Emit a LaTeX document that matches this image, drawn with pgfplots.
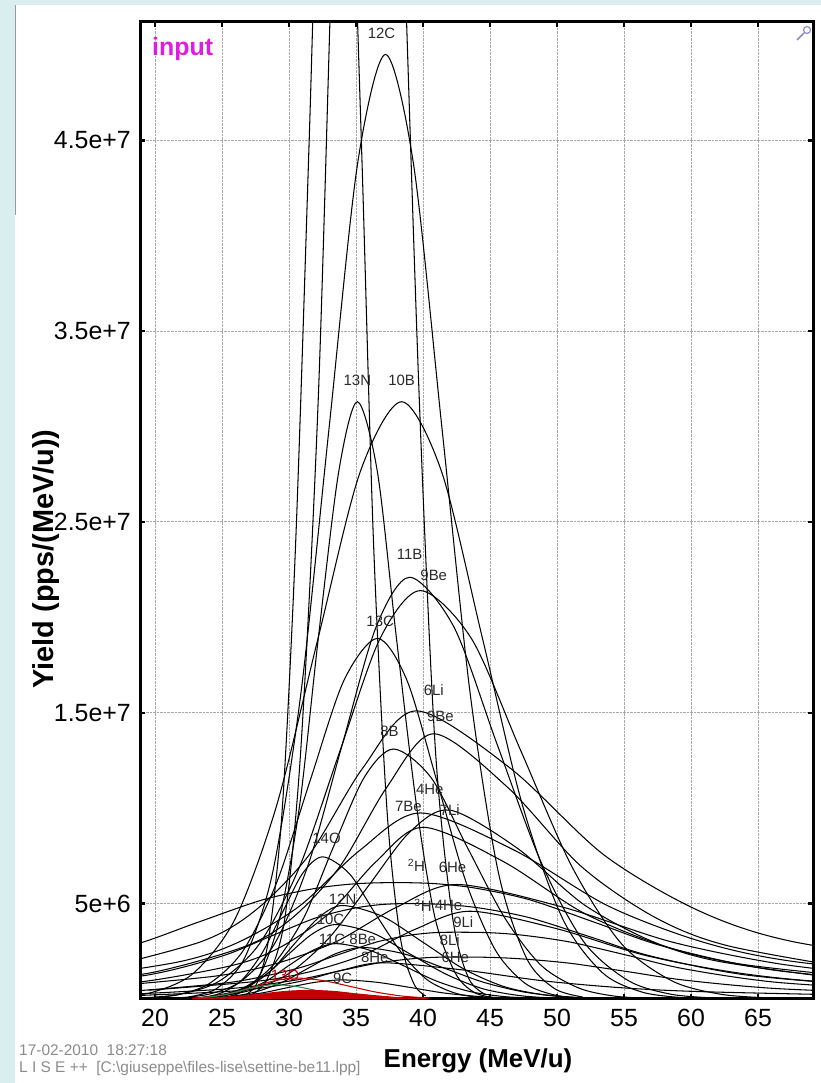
\documentclass[border=0pt]{standalone}
\usepackage{fontspec}
\setmainfont{Liberation Sans}
\usepackage{pgfplots}
\pgfplotsset{compat=1.18}

\definecolor{slidebg}{HTML}{DAEDEF}
\definecolor{slideline}{HTML}{9A9A9A}
\definecolor{inputmag}{HTML}{E01CE0}
\definecolor{gridgray}{HTML}{A8A8A8}
\definecolor{ionred}{HTML}{C00000}
\definecolor{iongreen}{HTML}{2A8A4A}
\definecolor{lblgray}{HTML}{2A2A2A}
\definecolor{stampgray}{HTML}{8C8C8C}
\definecolor{zoomicon}{HTML}{8C8CD0}

\begin{document}
\begin{tikzpicture}[x=1bp,y=1bp]
\useasboundingbox (0,0) rectangle (821,1083);
\fill[slidebg] (0,0) rectangle (821,1083);
\fill[white] (15,0) rectangle (821,1078);
\draw[slideline, line width=1.5bp] (15.5,868) -- (15.5,1078);

\begin{axis}[
  at={(140bp,84bp)}, anchor=south west, scale only axis,
  width=673bp, height=977bp,
  xmin=18.88, xmax=69.1, ymin=0, ymax=51.2,
  axis line style={line width=3bp},
  tick align=inside, major tick length=5bp,
  every tick/.style={black, line width=2.5bp},
  xtick={20,25,...,65},
  ytick={5,15,25,35,45},
  yticklabels={5e+6,1.5e+7,2.5e+7,3.5e+7,4.5e+7},
  grid=major,
  major grid style={gridgray, densely dotted, line width=1bp},
  /pgf/number format/assume math mode=true,
  xticklabel style={font={\fontsize{25}{30}\selectfont}, inner sep=0pt, anchor=north, yshift=-10bp},
  yticklabel style={font={\fontsize{25}{30}\selectfont}, inner sep=0pt, anchor=east, xshift=-9bp},
  cycle list={{black, solid}},
  every axis plot/.append style={line width=1.05bp, smooth, no markers},
  clip=true,
]
% narrow, very intense distributions (peaks far above the frame)
\addplot coordinates {(26.6,0.16)(27.6,0.82)(28.5,3.25)(29.5,10.0)(30.5,24.0)(31.5,44.9)(32.4,65.3)(33.4,74)(34.4,65.3)(35.4,44.9)(36.3,24.0)(37.3,10.0)(38.3,3.25)(39.3,0.82)(40.2,0.16)};
\addplot coordinates {(27.2,0.22)(28.4,1.09)(29.7,4.3)(30.9,13.3)(32.2,31.8)(33.4,59.4)(34.7,86.5)(35.9,98)(37.2,86.5)(38.4,59.4)(39.7,31.8)(40.9,13.3)(42.2,4.3)(43.4,1.09)(44.7,0.22)};
% 12C
\addplot coordinates {(22.5,0.11)(24.6,0.55)(26.7,2.17)(28.8,6.70)(30.9,16.1)(33.0,30.0)(35.1,43.7)(37.2,49.5)(39.3,43.7)(41.4,30.0)(43.5,16.1)(45.6,6.70)(47.7,2.17)(49.8,0.55)(51.9,0.11)};
% 13N
\addplot coordinates {(25.0,0.07)(26.4,0.35)(27.9,1.37)(29.3,4.23)(30.8,10.2)(32.2,19.0)(33.7,27.6)(35.1,31.3)(36.6,27.6)(38.0,19.0)(39.5,10.2)(40.9,4.23)(42.4,1.37)(43.8,0.35)(45.3,0.07)};
% 10B
\addplot coordinates {(16.7,0.07)(19.8,0.35)(22.9,1.37)(26.0,4.23)(29.1,10.2)(32.2,19.0)(35.3,27.6)(38.4,31.3)(41.4,27.6)(44.4,19.0)(47.4,10.2)(50.4,4.23)(53.4,1.37)(56.4,0.35)(59.4,0.07)};
% 11B
\addplot coordinates {(21.5,0.05)(24.0,0.25)(26.5,0.97)(29.0,2.99)(31.5,7.18)(34.0,13.4)(36.5,19.5)(39.0,22.1)(42.3,19.5)(45.5,13.4)(48.8,7.18)(52.0,2.99)(55.3,0.97)(58.5,0.25)(61.8,0.05)};
% 9Be
\addplot coordinates {(18.8,0.05)(21.8,0.24)(24.8,0.94)(27.8,2.90)(30.8,6.95)(33.8,13.0)(36.8,18.9)(39.8,21.4)(43.6,18.9)(47.3,13.0)(51.1,6.95)(54.8,2.90)(58.6,0.94)(62.3,0.24)(66.1,0.05)};
% 13C
\addplot coordinates {(19.1,0.04)(21.6,0.21)(24.1,0.83)(26.6,2.56)(29.1,6.14)(31.6,11.5)(34.1,16.7)(36.6,18.9)(38.8,16.7)(41.0,11.5)(43.2,6.14)(45.4,2.56)(47.6,0.83)(49.8,0.21)(52.0,0.04)};
% 6Li
\addplot coordinates {(15.5,1.51)(23.5,3.02)(27.5,4.65)(31.5,7.55)(35.5,12.1)(39.5,15.1)(46.5,12.1)(53.5,7.55)(60.5,4.65)(67.5,3.02)(81.5,1.51)};
% 9Be (second setting)
\addplot coordinates {(12.8,0.82)(19.8,1.39)(26.8,2.78)(30.3,4.28)(33.8,6.95)(37.3,11.1)(40.8,13.9)(46.3,11.1)(51.8,6.95)(57.3,4.28)(62.8,2.78)(73.8,1.39)};
% 8B
\addplot coordinates {(22.1,0.03)(24.3,0.15)(26.6,0.58)(28.8,1.77)(31.1,4.25)(33.3,7.95)(35.6,11.6)(37.8,13.1)(40.6,11.6)(43.3,7.95)(46.1,4.25)(48.8,1.77)(51.6,0.58)(54.3,0.15)(57.1,0.03)};
% 4He
\addplot coordinates {(12.8,0.98)(21.8,1.95)(26.3,3.0)(30.8,4.88)(35.3,7.8)(39.8,9.75)(46.8,7.8)(53.8,4.88)(60.8,3.0)(67.8,1.95)(81.8,0.98)};
% 7Be
\addplot coordinates {(12.0,0.53)(19.0,0.9)(26.0,1.8)(29.5,2.77)(33.0,4.5)(36.5,7.2)(40.0,9.0)(46.0,7.2)(52.0,4.5)(58.0,2.77)(64.0,1.8)(76.0,0.9)};
% 7Li
\addplot coordinates {(24.0,0.11)(27.0,0.43)(30.0,1.34)(33.0,3.21)(36.0,6.0)(39.0,8.74)(42.0,9.9)(47.0,7.92)(52.0,4.95)(57.0,3.05)(62.0,1.98)(72.0,0.99)};
% 14O
\addplot coordinates {(22.0,0.02)(23.5,0.08)(25.0,0.33)(26.5,1.01)(28.0,2.42)(29.5,4.52)(31.0,6.57)(32.5,7.45)(34.5,6.57)(36.4,4.52)(38.4,2.42)(40.3,1.01)(42.3,0.33)(44.2,0.08)(46.2,0.02)};
% 2H
\addplot coordinates {(-2.0,0.73)(10.0,1.53)(18.0,2.75)(23.0,3.97)(28.0,5.19)(32.0,5.8)(35.0,6.04)(38.0,6.1)(41.0,6.04)(44.0,5.8)(48.0,5.19)(53.0,3.97)(58.0,2.75)(66.0,1.53)(78.0,0.73)};
% 6He
\addplot coordinates {(15.5,0.6)(24.5,1.2)(29.0,1.85)(33.5,3.0)(38.0,4.8)(42.5,6.0)(50.5,4.8)(58.5,3.0)(66.5,1.85)(74.5,1.2)};
% 12N
\addplot coordinates {(23.5,0.05)(25.3,0.22)(27.0,0.66)(28.8,1.59)(30.5,2.97)(32.3,4.32)(34.0,4.9)(37.0,4.32)(40.0,2.97)(43.0,1.59)(46.0,0.66)(49.0,0.22)(52.0,0.05)};
% 3H
\addplot coordinates {(11.0,0.6)(19.4,1.25)(25.0,2.25)(28.5,3.25)(32.0,4.25)(34.8,4.75)(36.9,4.95)(39.0,5.0)(41.7,4.95)(44.4,4.75)(48.0,4.25)(52.5,3.25)(57.0,2.25)(64.2,1.25)(75.0,0.6)};
% 9Li
\addplot coordinates {(19.5,0.46)(27.5,0.92)(31.5,1.42)(35.5,2.3)(39.5,3.68)(43.5,4.6)(50.0,3.68)(56.5,2.3)(63.0,1.42)(69.5,0.92)(82.5,0.46)};
% 10C
\addplot coordinates {(23.0,0.04)(24.8,0.17)(26.5,0.53)(28.3,1.27)(30.0,2.37)(31.8,3.44)(33.5,3.9)(36.3,3.44)(39.0,2.37)(41.8,1.27)(44.5,0.53)(47.3,0.17)(50.0,0.04)};
% 8Li
\addplot coordinates {(18.5,0.42)(25.7,0.88)(30.5,1.58)(33.5,2.28)(36.5,2.98)(38.9,3.33)(40.7,3.47)(42.5,3.5)(45.1,3.47)(47.6,3.33)(51.0,2.98)(55.3,2.28)(59.5,1.58)(66.3,0.88)(76.5,0.42)};
% 11C
\addplot coordinates {(23.0,0.03)(24.8,0.13)(26.5,0.39)(28.3,0.94)(30.0,1.76)(31.8,2.56)(33.5,2.9)(36.0,2.56)(38.5,1.76)(41.0,0.94)(43.5,0.39)(46.0,0.13)(48.5,0.03)};
% 8Be
\addplot coordinates {(23.5,0.03)(25.5,0.12)(27.5,0.37)(29.5,0.88)(31.5,1.64)(33.5,2.38)(35.5,2.7)(38.5,2.38)(41.5,1.64)(44.5,0.88)(47.5,0.37)(50.5,0.12)(53.5,0.03)};
% 6He (second setting)
\addplot coordinates {(18.5,0.26)(25.7,0.55)(30.5,0.99)(33.5,1.43)(36.5,1.87)(38.9,2.09)(40.7,2.18)(42.5,2.2)(45.1,2.18)(47.6,2.09)(51.0,1.87)(55.3,1.43)(59.5,0.99)(66.3,0.55)(76.5,0.26)};
% 8He
\addplot coordinates {(19.0,0.19)(25.0,0.38)(28.0,0.58)(31.0,0.95)(34.0,1.52)(37.0,1.9)(43.0,1.52)(49.0,0.95)(55.0,0.58)(61.0,0.38)(73.0,0.19)};
% 9C
\addplot coordinates {(24.0,0.04)(26.0,0.14)(28.0,0.32)(30.0,0.61)(32.0,0.88)(34.0,1.0)(36.5,0.88)(39.0,0.61)(41.5,0.32)(44.0,0.14)(46.5,0.04)};
% 13O
\addplot[ionred] coordinates {(23.0,0.05)(24.5,0.15)(26.0,0.36)(27.5,0.67)(29.0,0.97)(30.5,1.1)(32.5,0.97)(34.5,0.67)(36.5,0.36)(38.5,0.15)(40.5,0.05)};
% light neighbour of 13O
\addplot[iongreen] coordinates {(22.8,0.03)(24.0,0.10)(25.3,0.24)(26.5,0.45)(27.8,0.66)(29.0,0.75)(30.5,0.66)(32.0,0.45)(33.5,0.24)(35.0,0.10)(36.5,0.03)};
% weakest component, filled
\addplot[ionred, fill=ionred] coordinates {(22.8,0.02)(24.5,0.06)(26.3,0.15)(28.0,0.27)(29.8,0.40)(31.5,0.45)(33.3,0.40)(35.0,0.27)(36.8,0.15)(38.5,0.06)(40.3,0.02)} \closedcycle;

% fragment labels
\begin{scope}[every node/.style={inner sep=0pt, text=lblgray, font={\fontsize{15}{17}\selectfont}}]
\node at (axis cs:36.9,50.6) {12C};
\node at (axis cs:35.1,32.4) {13N};
\node at (axis cs:38.4,32.4) {10B};
\node at (axis cs:39.0,23.3) {11B};
\node at (axis cs:40.8,22.2) {9Be};
\node at (axis cs:36.8,19.8) {13C};
\node at (axis cs:40.8,16.2) {6Li};
\node at (axis cs:41.3,14.8) {9Be};
\node at (axis cs:37.5,14.0) {8B};
\node at (axis cs:40.5,11.0) {4He};
\node at (axis cs:38.9,10.1) {7Be};
\node at (axis cs:42.0,9.9) {7Li};
\node at (axis cs:32.8,8.4) {14O};
\node at (axis cs:39.5,7.0) {\textsuperscript{2}H};
\node at (axis cs:42.2,6.9) {6He};
\node at (axis cs:34.0,5.2) {12N};
\node at (axis cs:40.0,4.9) {\textsuperscript{3}H};
\node at (axis cs:41.9,4.9) {4He};
\node at (axis cs:43.0,4.05) {9Li};
\node at (axis cs:33.1,4.15) {10C};
\node at (axis cs:42.0,3.1) {8Li};
\node at (axis cs:33.2,3.1) {11C};
\node at (axis cs:35.5,3.1) {8Be};
\node at (axis cs:36.4,2.2) {8He};
\node at (axis cs:42.4,2.2) {6He};
\node[text=ionred] at (axis cs:29.7,1.25) {13O};
\node at (axis cs:34.0,1.1) {9C};
\end{scope}
\end{axis}

% panel annotations
\node[anchor=base west, inner sep=0pt, text=inputmag, font={\bfseries\fontsize{25}{30}\selectfont}] at (152,1027) {input};
\draw[zoomicon, line width=1.6bp] (797,1043) -- (804,1050);
\draw[zoomicon, line width=1.2bp] (807,1053) circle (3.5);

% axis titles
\node[rotate=90, inner sep=0pt, font={\bfseries\fontsize{29}{34}\selectfont}] at (46,524) {Yield (pps/(MeV/u))};
\node[anchor=base, inner sep=0pt, font={\bfseries\fontsize{26}{30}\selectfont}] at (478,15) {Energy (MeV/u)};

% time stamp and settings file
\node[anchor=base west, inner sep=0pt, text=stampgray, font={\fontsize{15.5}{18}\selectfont}] at (19,27) {17-02-2010\ \ 18:27:18};
\node[anchor=base west, inner sep=0pt, text=stampgray, font={\fontsize{15.5}{18}\selectfont}] at (19,10) {L I S E ++\ \ [C:\textbackslash giuseppe\textbackslash files-lise\textbackslash settine-be11.lpp]};
\end{tikzpicture}
\end{document}
